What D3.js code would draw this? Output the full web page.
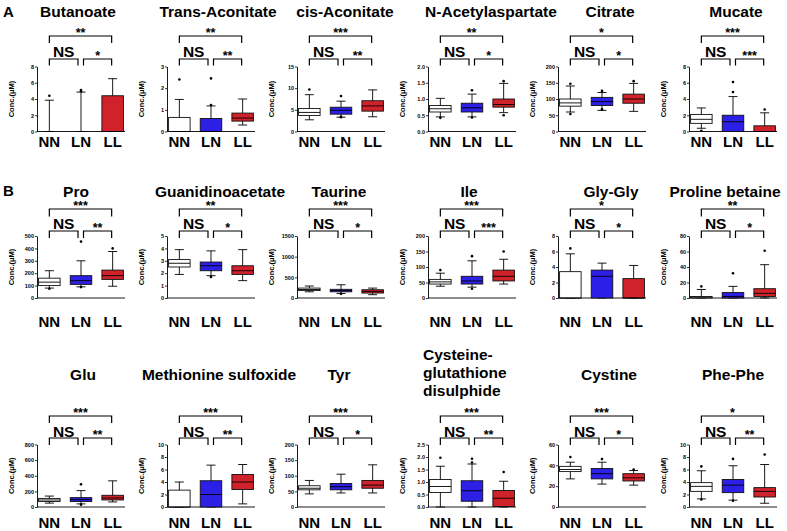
<!DOCTYPE html>
<html><head><meta charset="utf-8">
<script src="https://cdn.jsdelivr.net/npm/d3@7"></script>
<style>body{margin:0;background:#fff} svg{display:block;font-family:"Liberation Sans",Arial,Helvetica,sans-serif}</style>
</head><body><svg id="c" width="787" height="531"></svg>
<script>
// ---------------- DATA ----------------
const groups = ["NN", "LN", "LL"];
const titles = ["Butanoate", "Trans-Aconitate", "cis-Aconitate", "N-Acetylaspartate", "Citrate", "Mucate",
  "Pro", "Guanidinoacetate", "Taurine", "Ile", "Gly-Gly", "Proline betaine",
  "Glu", "Methionine sulfoxide", "Tyr", "Cysteine-\nglutathione\ndisulphide", "Cystine", "Phe-Phe"];
const panelLetters = ["A", "B"];
const yMaxes = [8, 3, 15, 2, 200, 8, 500, 5, 1500, 200, 8, 80, 800, 10, 200, 2.5, 60, 10];
const yTickSteps = [2, 1, 5, 0.5, 50, 2, 100, 1, 500, 50, 2, 20, 200, 2, 50, 0.5, 20, 2];
const sigTop = ["**", "**", "***", "**", "*", "***", "***", "**", "***", "***", "*", "**", "***", "***", "***", "***", "***", "*"];
const sigLeft = Array(18).fill("NS");
const sigRight = ["*", "**", "**", "*", "*", "***", "**", "*", "*", "***", "*", "*", "**", "**", "*", "**", "*", "**"];
// box stats: [lower whisker, Q1, median, Q3, upper whisker]
const statsNN = [[0,0,0,0,3.85],[0,0,0,0.65,1.48],[2.7,3.7,4.4,5.3,8.5],[0.45,0.6,0.7,0.8,1.02],[60,78,88,100,140],[0.4,1.0,1.5,2.1,2.9],
  [80,100,128,160,220],[1.9,2.5,2.8,3.1,3.9],[150,180,205,240,290],[38,45,52,60,80],[0,0,0,3.4,5.7],[0,0,1,2,11],
  [50,70,90,110,140],[0,0,0,2.7,4.0],[42,55,60,68,85],[0,0.58,0.82,1.1,1.63],[27,34,36,39,43],[1.3,2.5,3.3,3.9,5.8]];
const statsLN = [[0,0,0,0,4.85],[0,0,0,0.6,1.18],[3.3,4.0,4.9,5.6,7.0],[0.45,0.6,0.73,0.87,1.15],[65,80,92,105,120],[0,0,1.2,2.0,4.3],
  [90,110,140,180,300],[1.8,2.2,2.6,2.9,3.8],[110,150,180,210,320],[35,45,55,70,120],[0,0,2.8,3.6,4.5],[0,0,2,7,15],
  [40,70,95,120,210],[0,0,2.0,4.2,6.7],[45,55,65,75,105],[0,0.23,0.65,1.05,1.72],[22,27,32,37,43],[1.1,2.3,3.5,4.4,6.6]];
const statsLL = [[0,0,0,4.4,6.5],[0.3,0.48,0.62,0.85,1.5],[3.4,4.7,5.9,7.1,9.6],[0.58,0.75,0.83,1.0,1.48],[62,87,100,115,148],[0,0,0,0.7,2.3],
  [95,150,180,225,375],[1.4,1.9,2.2,2.6,3.9],[80,120,160,200,240],[45,55,70,90,125],[0,0,0,2.5,4.2],[0,2,6,12,43],
  [65,90,115,150,335],[0.5,2.8,4.0,5.2,6.8],[45,60,70,85,135],[0,0.02,0.35,0.66,1.03],[21,25,28,32,35],[0.6,1.6,2.5,3.1,6.8]];
const outNN = [[4.4],[2.4],[9.7],[0.42],[147,54],[0.1],[75],[],[],[90],[6.4],[15],[],[],[],[1.97],[48],[6.5,1.2]];
const outLN = [[4.95,5.1],[2.45,1.22],[8.2,3.4,3.3],[1.27,0.43],[125,68],[6.1,4.85],[455,88],[1.7],[100],[135,30],[],[32],[290,30],[],[],[1.93,1.78],[46],[7.7,1.0]];
const outLL = [[],[],[],[1.55,0.5],[155],[2.7],[400],[],[],[150],[],[61],[],[],[],[1.4],[36],[8.4]];

// ---------------- LAYOUT ----------------
const colX = [37, 167, 297, 428, 558, 689];
const rows = [
  {yTop: 66.5, yBot: 131.5, title: 17, topBr: 36, topLeg: 43, ns: 56.5, lowBr: 59, lowLeg: 65.5, xlab: 147, letter: 17},
  {yTop: 236, yBot: 298, title: 197, topBr: 209, topLeg: 216.5, ns: 229, lowBr: 231, lowLeg: 238, xlab: 327, letter: 196},
  {yTop: 444.5, yBot: 507, title: 380, topBr: 416, topLeg: 423, ns: 437, lowBr: 438, lowLeg: 445, xlab: 527.5, letter: null}
];
const titleCX = [78, 218, 345, 491, 610, 736, 76, 220, 339, 469, 611, 725, 83, 219, 339, 423, 609, 733];
const fills = {NN: "#ffffff", LN: "#2c1fe6", LL: "#d0222a"};
const statsBy = {NN: statsNN, LN: statsLN, LL: statsLL};
const outBy = {NN: outNN, LN: outLN, LL: outLL};

const svg = d3.select("#c");
svg.append("rect").attr("width", 787).attr("height", 531).attr("fill", "#fff");

rows.forEach((R, r) => {
  if (R.letter !== null && panelLetters[r]) {
    svg.append("text").attr("x", 3).attr("y", R.letter).text(panelLetters[r])
      .attr("font-size", 15).attr("font-weight", "bold");
  }
});

for (let i = 0; i < 18; i++) {
  const r = Math.floor(i / 6), c = i % 6;
  const R = rows[r];
  const x0 = colX[c];
  const g = svg.append("g");
  const y = d3.scaleLinear().domain([0, yMaxes[i]]).range([R.yBot, R.yTop]);
  const x = d3.scaleBand().domain(groups).range([x0, x0 + 88]).paddingInner(0.32).paddingOuter(0.05);
  const bw = x.bandwidth();
  const cx = k => x(k) + bw / 2;

  // title
  const lines = titles[i].split("\n");
  if (lines.length === 1) {
    g.append("text").attr("font-size", 15.5).attr("font-weight", "bold")
      .attr("x", titleCX[i]).attr("y", R.title).attr("text-anchor", "middle").text(lines[0]);
  } else {
    lines.forEach((ln, j) => {
      g.append("text").attr("font-size", 15.5).attr("font-weight", "bold")
        .attr("x", titleCX[i]).attr("y", R.title - (lines.length - 1 - j) * 18 + 16)
        .text(ln);
    });
  }

  // y axis
  const step = yTickSteps[i];
  const ticks = d3.range(0, yMaxes[i] + step / 2, step);
  const fmt = step < 1 ? d3.format(".1f") : d3.format("d");
  const ax = g.append("g").attr("transform", `translate(${x0},0)`)
    .call(d3.axisLeft(y).tickValues(ticks).tickFormat(fmt).tickSize(2).tickSizeOuter(0).tickPadding(1));
  ax.select(".domain").attr("stroke", "#000").attr("stroke-width", 0.9);
  ax.selectAll(".tick line").attr("stroke", "#000").attr("stroke-width", 0.8);
  ax.selectAll(".tick text").attr("font-size", 5.5).attr("font-weight", "bold").attr("fill", "#000")
    .attr("font-family", "'Liberation Sans',Arial,sans-serif");
  // y label
  g.append("text").attr("transform", `translate(${x0 - 23},${(R.yTop + R.yBot) / 2}) rotate(-90)`)
    .attr("text-anchor", "middle").attr("font-size", 7.5).attr("font-weight", "bold").text("Conc.(μM)");
  // x axis line
  g.append("line").attr("x1", x0).attr("x2", x0 + 88).attr("y1", R.yBot).attr("y2", R.yBot)
    .attr("stroke", "#000").attr("stroke-width", 0.9);
  // x labels
  groups.forEach(k => {
    g.append("text").attr("x", cx(k)).attr("y", R.xlab).attr("text-anchor", "middle")
      .attr("font-size", 15).attr("font-weight", "bold").text(k);
  });

  // boxes
  groups.forEach(k => {
    const s = statsBy[k][i];
    const xc = cx(k);
    const cap = 4.5;
    g.append("line").attr("x1", xc).attr("x2", xc).attr("y1", y(s[0])).attr("y2", y(s[4]))
      .attr("stroke", "#000").attr("stroke-width", 0.9);
    [s[0], s[4]].forEach(v => {
      g.append("line").attr("x1", xc - cap).attr("x2", xc + cap).attr("y1", y(v)).attr("y2", y(v))
        .attr("stroke", "#000").attr("stroke-width", 0.9);
    });
    if (s[3] > s[1]) {
      g.append("rect").attr("x", x(k)).attr("width", bw).attr("y", y(s[3])).attr("height", y(s[1]) - y(s[3]))
        .attr("fill", fills[k]).attr("stroke", "#111").attr("stroke-width", 0.9);
      g.append("line").attr("x1", x(k)).attr("x2", x(k) + bw).attr("y1", y(s[2])).attr("y2", y(s[2]))
        .attr("stroke", "#000").attr("stroke-width", 0.9);
    }
    outBy[k][i].forEach(v => {
      g.append("circle").attr("cx", xc).attr("cy", y(v)).attr("r", 1.3).attr("fill", "#000");
    });
  });

  // significance brackets
  const c0 = cx("NN"), c1 = cx("LN"), c2 = cx("LL");
  const br = (xa, xb, yh, yl) => g.append("path")
    .attr("d", `M${xa},${yl}V${yh}H${xb}V${yl}`).attr("fill", "none").attr("stroke", "#000").attr("stroke-width", 1.2);
  br(c0, c2 - 1, R.topBr, R.topLeg);
  br(c0, c1 - 3, R.lowBr, R.lowLeg);
  br(c1 + 2.5, c2 - 1, R.lowBr, R.lowLeg);
  g.append("text").attr("x", (c0 + c2 - 1) / 2).attr("y", R.topBr + 0.5).attr("text-anchor", "middle")
    .attr("font-size", 12.5).attr("font-weight", "bold").text(sigTop[i]);
  g.append("text").attr("x", (c0 + c1 - 3) / 2).attr("y", R.ns).attr("text-anchor", "middle")
    .attr("font-size", 15.5).attr("font-weight", "bold").text(sigLeft[i]);
  g.append("text").attr("x", (c1 + 2.5 + c2 - 1) / 2).attr("y", R.lowBr + 0.5).attr("text-anchor", "middle")
    .attr("font-size", 12.5).attr("font-weight", "bold").text(sigRight[i]);
}
</script></body></html>
